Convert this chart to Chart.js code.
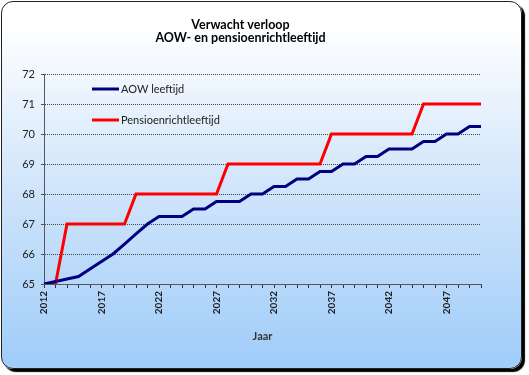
<!DOCTYPE html>
<html>
<head>
<meta charset="utf-8">
<script src="https://cdn.jsdelivr.net/npm/chart.js@4"></script>
<style>
  body { margin: 0; background: #fff; }
  #wrap { position: relative; width: 529px; height: 375px; }
  #bg {
    position: absolute; left: 1px; top: 1px; width: 519px; height: 366px;
    border: 1px solid #222; border-radius: 12px;
    box-shadow: 3px 3px 1px #000;
    background: linear-gradient(to bottom, #ffffff 6%, #d6e8fb 45%, #9fccf9 100%);
  }
  #myChart { position: absolute; left: 0; top: 0; }
</style>
</head>
<body>
<div id="wrap">
  <div id="bg"></div>
  <canvas id="myChart" width="529" height="375"></canvas>
</div>
<script>
var years = ['2012', '2013', '2014', '2015', '2016', '2017', '2018', '2019', '2020', '2021',
    '2022', '2023', '2024', '2025', '2026', '2027', '2028', '2029', '2030', '2031',
    '2032', '2033', '2034', '2035', '2036', '2037', '2038', '2039', '2040', '2041',
    '2042', '2043', '2044', '2045', '2046', '2047', '2048', '2049', '2050'];
var xTickLabels = ['2012', '2017', '2022', '2027', '2032', '2037', '2042', '2047'];

var aowLeeftijd = [65, 65.083, 65.167, 65.25, 65.5, 65.75, 66, 66.333, 66.667, 67,
    67.25, 67.25, 67.25, 67.5, 67.5, 67.75, 67.75, 67.75, 68, 68,
    68.25, 68.25, 68.5, 68.5, 68.75, 68.75, 69, 69, 69.25, 69.25,
    69.5, 69.5, 69.5, 69.75, 69.75, 70, 70, 70.25, 70.25];
var pensioenLeeftijd = [65, 65, 67, 67, 67, 67, 67, 67, 68, 68,
    68, 68, 68, 68, 68, 68, 69, 69, 69, 69,
    69, 69, 69, 69, 69, 70, 70, 70, 70, 70,
    70, 70, 70, 71, 71, 71, 71, 71, 71];

var FONT = 'Lato, "Open Sans", sans-serif';

// legend drawn inside the plot, top left
var innerLegend = {
    id: 'innerLegend',
    afterDatasetsDraw: function (chart) {
        var c = chart.ctx;
        var rows = [89, 120];
        c.save();
        chart.data.datasets.forEach(function (ds, i) {
            var y = rows[i];
            c.strokeStyle = ds.borderColor;
            c.lineWidth = 3;
            c.beginPath();
            c.moveTo(92, y);
            c.lineTo(119, y);
            c.stroke();
            c.fillStyle = '#222';
            c.font = '11px ' + FONT;
            c.textBaseline = 'middle';
            c.fillText(ds.label, 121, y);
        });
        c.restore();
    }
};

var ctx = document.getElementById('myChart');
var myChart = new Chart(ctx, {
    type: 'line',
    data: {
        labels: years,
        datasets: [{
            label: 'AOW leeftijd',
            data: aowLeeftijd,
            borderColor: '#000080',
            borderWidth: 3,
            pointRadius: 0,
            tension: 0
        }, {
            label: 'Pensioenrichtleeftijd',
            data: pensioenLeeftijd,
            borderColor: '#ff0000',
            borderWidth: 3,
            pointRadius: 0,
            tension: 0
        }]
    },
    options: {
        responsive: false,
        animation: false,
        layout: {
            padding: { left: 0, right: 48, top: 0, bottom: 0 }
        },
        plugins: {
            legend: { display: false },
            tooltip: { enabled: false },
            title: {
                display: true,
                text: ['Verwacht verloop', 'AOW- en pensioenrichtleeftijd'],
                color: '#000',
                font: { family: FONT, size: 12.5, weight: 'bold', lineHeight: 1.06 },
                padding: { top: 18, bottom: 29.5 }
            }
        },
        scales: {
            x: {
                afterFit: function (scale) { scale.height = 91; },
                grid: {
                    drawOnChartArea: false,
                    tickLength: 4,
                    tickColor: '#333'
                },
                border: { color: '#556', width: 1 },
                ticks: {
                    autoSkip: false,
                    minRotation: 90,
                    maxRotation: 90,
                    padding: 3,
                    color: '#222',
                    font: { family: FONT, size: 10, weight: 'bold' },
                    callback: function (v, i) {
                        var l = years[i];
                        return xTickLabels.indexOf(l) >= 0 ? l : '';
                    }
                },
                title: {
                    display: true,
                    text: 'Jaar',
                    color: '#333',
                    font: { family: FONT, size: 11, weight: 'bold' },
                    padding: { bottom: 32 }
                }
            },
            y: {
                min: 65,
                max: 72,
                afterFit: function (scale) { scale.width = 44; },
                grid: {
                    color: '#444',
                    tickColor: '#555',
                    tickLength: 3
                },
                border: { color: '#556', width: 1, dash: [1, 1] },
                ticks: {
                    stepSize: 1,
                    padding: 6,
                    color: '#222',
                    font: { family: FONT, size: 11 }
                }
            }
        }
    },
    plugins: [innerLegend]
});
</script>
</body>
</html>
